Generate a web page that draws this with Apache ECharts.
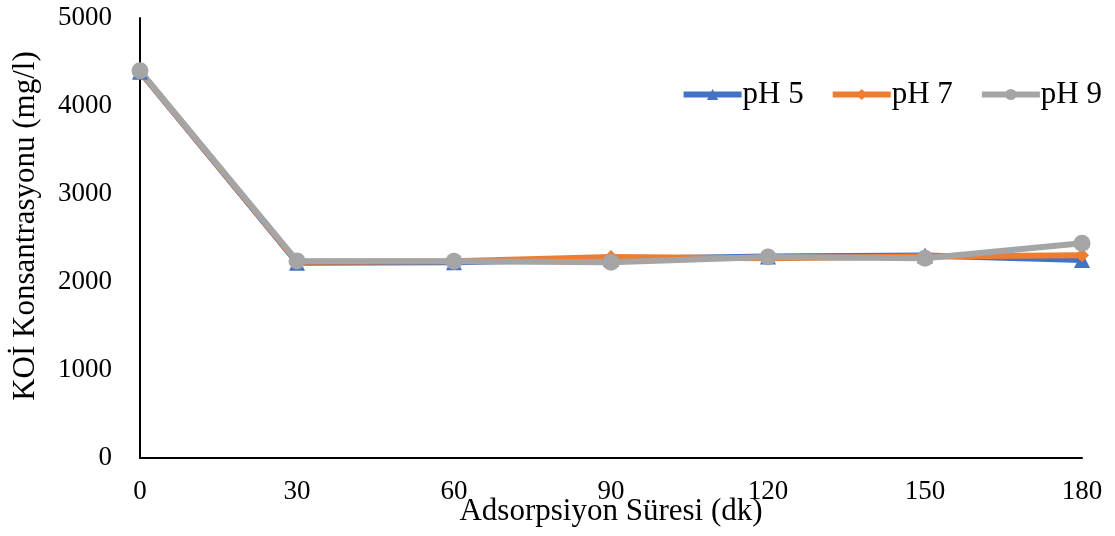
<!DOCTYPE html>
<html>
<head>
<meta charset="utf-8">
<script src="https://cdn.jsdelivr.net/npm/echarts@6/dist/echarts.min.js"></script>
<style>
  html, body { margin: 0; padding: 0; background: #fff; }
  #chart { width: 1115px; height: 536px; }
</style>
</head>
<body>
<div id="chart"></div>
<script>
  // zaman (dk)
  var times = [0, 30, 60, 90, 120, 150, 180];
  // KOİ konsantrasyonu (mg/l)
  var ph5 = [4390, 2220, 2225, 2260, 2290, 2300, 2250];
  var ph7 = [4395, 2230, 2235, 2285, 2270, 2290, 2305];
  var ph9 = [4400, 2240, 2235, 2225, 2285, 2270, 2440];
  var seriesNames = ['pH 5', 'pH 7', 'pH 9'];

  function pairs(arr){
    return times.map(function(t, i){ return [t, arr[i]]; });
  }

  var font = 'Liberation Serif, Times New Roman, serif';

  function makeSeries(name, arr, color, symbol, size){
    return {
      name: name,
      type: 'line',
      data: pairs(arr),
      symbol: symbol,
      symbolSize: size,
      itemStyle: { color: color },
      lineStyle: { color: color, width: 6 }
    };
  }

  var option = {
    animation: false,
    backgroundColor: '#fff',
    grid: { left: 140, right: 33, top: 18, bottom: 78, containLabel: false, outerBoundsMode: 'none' },
    legend: {
      top: 74,
      right: 8,
      itemWidth: 58,
      itemHeight: 14,
      itemGap: 26,
      lineStyle: { width: 6 },
      textStyle: { fontFamily: font, fontSize: 31, color: '#000', padding: [0, 0, 0, -4] },
      data: seriesNames
    },
    xAxis: {
      type: 'value',
      min: 0, max: 180, interval: 30,
      name: 'Adsorpsiyon Süresi (dk)',
      nameLocation: 'middle',
      nameGap: 38,
      nameMoveOverlap: false,
      nameTextStyle: { fontFamily: font, fontSize: 31, color: '#000' },
      axisLine: { lineStyle: { color: '#000', width: 2 } },
      axisTick: { show: false },
      splitLine: { show: false },
      axisLabel: { fontFamily: font, fontSize: 27, color: '#000', margin: 20 }
    },
    yAxis: {
      type: 'value',
      min: 0, max: 5000, interval: 1000,
      name: 'KOİ Konsantrasyonu (mg/l)',
      nameLocation: 'middle',
      nameGap: 99,
      nameMoveOverlap: false,
      nameTextStyle: { fontFamily: font, fontSize: 31, color: '#000', padding: [0, 0, 0, 24] },
      axisLine: { show: true, lineStyle: { color: '#000', width: 2 } },
      axisTick: { show: false },
      splitLine: { show: false },
      axisLabel: { fontFamily: font, fontSize: 27, color: '#000', margin: 28,
        formatter: function(v){ return String(v); } }
    },
    series: [
      makeSeries('pH 5', ph5, '#4472C4', 'triangle', 16),
      makeSeries('pH 7', ph7, '#ED7D31', 'diamond', 14),
      makeSeries('pH 9', ph9, '#A5A5A5', 'circle', 17)
    ]
  };

  var myChart = echarts.init(document.getElementById('chart'));
  myChart.setOption(option);
</script>
</body>
</html>
